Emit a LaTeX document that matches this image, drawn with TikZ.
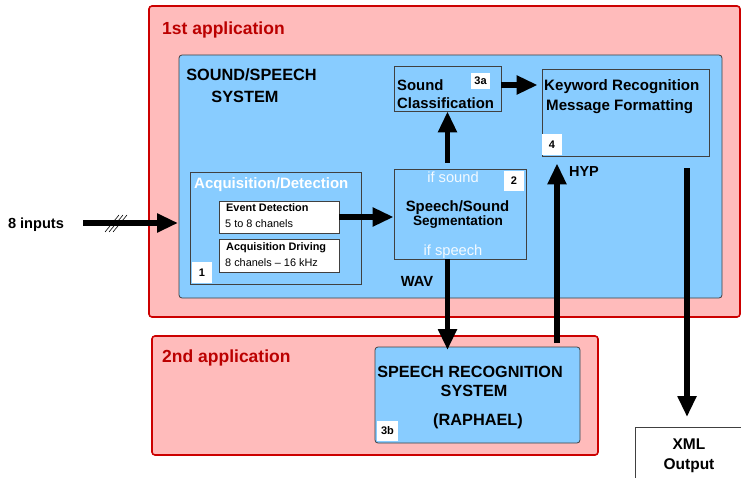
\documentclass[tikz,border=0pt]{standalone}
\usepackage{fontspec}
\setmainfont{Liberation Sans}
\usetikzlibrary{arrows.meta}
\definecolor{apppink}{HTML}{FFBBBB}
\definecolor{appred}{HTML}{CC0000}
\definecolor{apptext}{HTML}{BB0000}
\definecolor{sysblue}{HTML}{88CCFF}
\tikzset{
  appbox/.style={draw=appred, fill=apppink, line width=1.6pt, rounded corners=3pt},
  sysbox/.style={draw=black!75, fill=sysblue, line width=0.8pt, rounded corners=3pt},
  plainbox/.style={draw=black!75, line width=0.8pt},
  whitebox/.style={draw=black!75, fill=white, line width=0.8pt},
  numlbl/.style={fill=white, font=\fontsize{11}{12}\selectfont\bfseries, inner sep=0pt, minimum width=19pt, minimum height=19pt},
  bigarrow/.style={line width=5.5pt, -{Triangle[length=21pt,width=18pt]}},
  txt/.style={inner sep=0pt, text depth=0pt},
  apptitle/.style={txt, text=apptext, font=\fontsize{17.5}{20}\selectfont\bfseries, anchor=west},
}
\begin{document}
\begin{tikzpicture}[x=1pt,y=-1pt]
\useasboundingbox (0,0) rectangle (741,478);
% XML output box (clipped at the picture edge)
\begin{scope}
\clip (0,0) rectangle (741,478);
\draw[plainbox, fill=white] (635,480) -- (635,427) -- (745,427);
\end{scope}
\coordinate (xml) at (688,427);
\node[txt, font=\fontsize{15.5}{18}\selectfont\bfseries] (xml1) at (689,444) {XML};
\node[txt, font=\fontsize{15.5}{18}\selectfont\bfseries] (xml2) at (689,464) {Output};
% application boxes
\draw[appbox] (149,6) rectangle (740,317);
\node[apptitle] (app1) at (162,28) {1st application};
\draw[appbox] (152,336) rectangle (598,455);
\node[apptitle] (app2) at (162,356) {2nd application};
% sound/speech system
\draw[sysbox] (179,55) rectangle (722,298);
\node[txt, font=\fontsize{16.3}{18}\selectfont\bfseries] (sss1) at (251.5,75) {SOUND/SPEECH};
\node[txt, font=\fontsize{16.3}{18}\selectfont\bfseries] (sss2) at (245,97) {SYSTEM};
% acquisition/detection
\node[plainbox, minimum width=171pt, minimum height=112pt, inner sep=0pt] (acq) at (275.5,228) {};
\node[txt, text=white, font=\fontsize{15}{17}\selectfont\bfseries, anchor=west] (acqt) at (194,183) {Acquisition/Detection};
\node[whitebox, minimum width=120pt, minimum height=32pt, inner sep=0pt] (ed) at (279,217) {};
\node[txt, font=\fontsize{10.9}{12}\selectfont\bfseries, anchor=west] (edt) at (226,208) {Event Detection};
\node[txt, font=\fontsize{10.9}{12}\selectfont, anchor=west] (eds) at (225,224) {5 to 8 chanels};
\node[whitebox, minimum width=120pt, minimum height=33pt, inner sep=0pt] (ad) at (279,255.5) {};
\node[txt, font=\fontsize{10.9}{12}\selectfont\bfseries, anchor=west] (adt) at (226,247) {Acquisition Driving};
\node[txt, font=\fontsize{10.9}{12}\selectfont, anchor=west] (ads) at (225,263) {8 chanels -- 16 kHz};
\node[numlbl, minimum width=20pt, minimum height=21pt] (n1) at (202,272.5) {1};
% sound classification
\node[plainbox, minimum width=107pt, minimum height=45pt, inner sep=0pt] (sc) at (447.5,88.5) {};
\node[txt, font=\fontsize{14.9}{17}\selectfont\bfseries, anchor=west] (sct1) at (397,85) {Sound};
\node[txt, font=\fontsize{14.9}{17}\selectfont\bfseries, anchor=west] (sct2) at (397,103) {Classification};
\node[numlbl, minimum width=19pt, minimum height=16pt] (n3a) at (480.5,81) {3a};
% keyword recognition
\node[plainbox, minimum width=167pt, minimum height=87pt, inner sep=0pt] (kw) at (625.5,112.5) {};
\node[txt, font=\fontsize{15.1}{17}\selectfont\bfseries, anchor=west] (kwt1) at (544,85) {Keyword Recognition};
\node[txt, font=\fontsize{15.1}{17}\selectfont\bfseries, anchor=west] (kwt2) at (546,105) {Message Formatting};
\node[numlbl, minimum width=20pt, minimum height=21pt] (n4) at (552,145) {4};
% speech/sound segmentation
\node[plainbox, minimum width=132pt, minimum height=90pt, inner sep=0pt] (seg) at (460,214) {};
\node[txt, text=white!90!sysblue, font=\fontsize{14.7}{17}\selectfont] (ifs) at (453,177) {if sound};
\node[txt, text=white!90!sysblue, font=\fontsize{14.7}{17}\selectfont] (ifsp) at (453,250) {if speech};
\node[txt, font=\fontsize{14.9}{17}\selectfont\bfseries] (segt1) at (457.5,206) {Speech/Sound};
\node[txt, font=\fontsize{13.6}{16}\selectfont\bfseries] (segt2) at (458,221) {Segmentation};
\node[numlbl, minimum width=20pt, minimum height=20pt] (n2) at (514,181) {2};
% labels
\node[txt, font=\fontsize{14.7}{17}\selectfont\bfseries] (wav) at (417,281) {WAV};
\node[txt, font=\fontsize{14.5}{17}\selectfont\bfseries] (hyp) at (584,172) {HYP};
% speech recognition
\draw[sysbox] (375,347) rectangle (580,443);
\coordinate (sr) at (477.5,347);
\node[txt, font=\fontsize{16.2}{19}\selectfont\bfseries] (srt1) at (470,372) {SPEECH RECOGNITION};
\node[txt, font=\fontsize{16.2}{19}\selectfont\bfseries] (srt2) at (474,391) {SYSTEM};
\node[txt, font=\fontsize{16.3}{19}\selectfont\bfseries] (raph) at (478,420) {(RAPHAEL)};
\node[numlbl, minimum width=21pt, minimum height=20pt] (n3b) at (387.5,431) {3b};
% inputs
\node[txt, font=\fontsize{14.6}{17}\selectfont\bfseries] (in) at (36,223) {8 inputs};
\coordinate (inA) at (83,223);
\coordinate (inB) at (178,223);
\draw[bigarrow] (inA) -- (inB);
\foreach \dx in {0,4,8}
  \draw[line width=0.6pt] (105+\dx,232) -- (119+\dx,215);
% connectors
\draw[bigarrow] (ed.east) -- (seg.west |- ed.east);
\draw[bigarrow, shorten <=6pt] (seg.north -| sc.south) -- (sc.south);
\draw[bigarrow, shorten >=4pt] ([yshift=3.5pt]sc.east) -- ([yshift=3.5pt]sc.east -| kw.west);
\draw[bigarrow, shorten >=-3pt] (seg.south -| sc.south) -- (sr -| sc.south);
\coordinate (upx) at (557,0);
\draw[bigarrow, shorten <=4pt, shorten >=7pt] (sr -| upx) -- (kw.south -| upx);
\coordinate (dnx) at (687,0);
\draw[bigarrow, shorten <=12pt, shorten >=10pt] (kw.south -| dnx) -- (xml -| dnx);
\end{tikzpicture}
\end{document}
